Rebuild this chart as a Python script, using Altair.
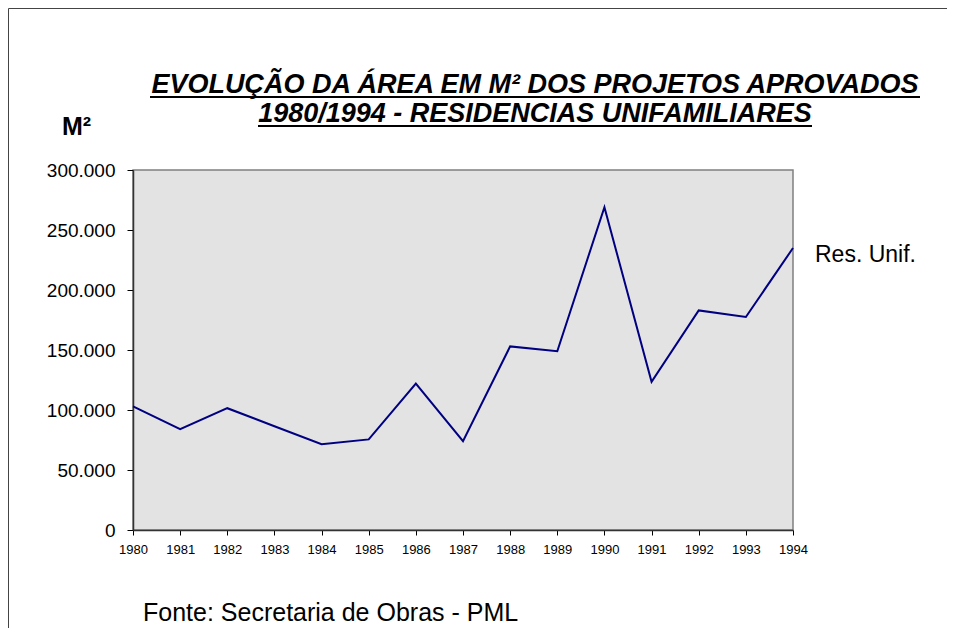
import altair as alt
import pandas as pd

years = list(range(1980, 1995))
area_m2 = [103000, 84000, 101500, 86500, 71500, 75500, 122000, 74000,
           153000, 149000, 269000, 123500, 183000, 177500, 235000]

title_line1 = "EVOLUÇÃO DA ÁREA EM M² DOS PROJETOS APROVADOS"
title_line2 = "1980/1994 - RESIDENCIAS UNIFAMILIARES"
y_unit = "M²"
series_name = "Res. Unif."
source_note = "Fonte: Secretaria de Obras - PML"
y_ticks = [0, 50000, 100000, 150000, 200000, 250000, 300000]

FONT = "Liberation Sans"

df = pd.DataFrame({"year": years, "area": area_m2})

W, H = 660, 360

line = alt.Chart(df).mark_line(color="#000080", strokeWidth=2).encode(
    x=alt.X("year:Q", scale=alt.Scale(domain=[1980, 1994], nice=False, zero=False),
            axis=alt.Axis(values=years, format="d", title=None, grid=False,
                          labelFontSize=13, labelPadding=8, tickSize=5,
                          labelFlush=False, labelOverlap=False)),
    y=alt.Y("area:Q", scale=alt.Scale(domain=[0, 300000], nice=False),
            axis=alt.Axis(values=y_ticks, title=None, grid=False,
                          labelFontSize=19, labelPadding=12, tickSize=6,
                          labelExpr="datum.value == 0 ? '0' : replace(format(datum.value, ','), ',', '.')")),
)

def text_layer(txt, x, y, size, bold=False, italic=False, align="left"):
    return alt.Chart(pd.DataFrame({"t": [txt]})).mark_text(
        font=FONT, fontSize=size, fontWeight="bold" if bold else "normal",
        fontStyle="italic" if italic else "normal", align=align,
        baseline="alphabetic", color="black",
    ).encode(text="t:N", x=alt.value(x), y=alt.value(y))

def rule_layer(x1, x2, y, width=2):
    return alt.Chart(pd.DataFrame({"t": [0]})).mark_rule(
        color="black", strokeWidth=width
    ).encode(x=alt.value(x1), x2=alt.value(x2), y=alt.value(y))

border = alt.Chart(pd.DataFrame({"t": [0]})).mark_rect(
    fill=None, stroke="#444444", strokeWidth=1
).encode(x=alt.value(-124.5), x2=alt.value(900), y=alt.value(-161.5), y2=alt.value(600))

title1 = text_layer(title_line1, 402, -77, 27, bold=True, italic=True, align="center")
title2 = text_layer(title_line2, 402, -48, 27, bold=True, italic=True, align="center")
ul1 = rule_layer(17, 787, -73)
ul2 = rule_layer(125, 679, -44)
unit = text_layer(y_unit, -71, -35, 25, bold=True)
legend = text_layer(series_name, 682, 92, 23)
source = text_layer(source_note, 10, 451, 25)

chart = alt.layer(border, line, title1, title2, ul1, ul2, unit, legend, source).properties(
    width=W, height=H,
    autosize=alt.AutoSizeParams(type="none"),
    padding={"left": 125, "top": 162, "right": 154, "bottom": 98},
    background="white",
).configure_view(
    fill="#e3e3e3", stroke="#808080", strokeWidth=1.5
).configure_axis(
    labelFont=FONT, labelColor="black", domainColor="#333333", domainWidth=1.5,
    tickColor="black", tickWidth=1
)

chart.save("out.html", embed_options={"renderer": "svg", "actions": False})
